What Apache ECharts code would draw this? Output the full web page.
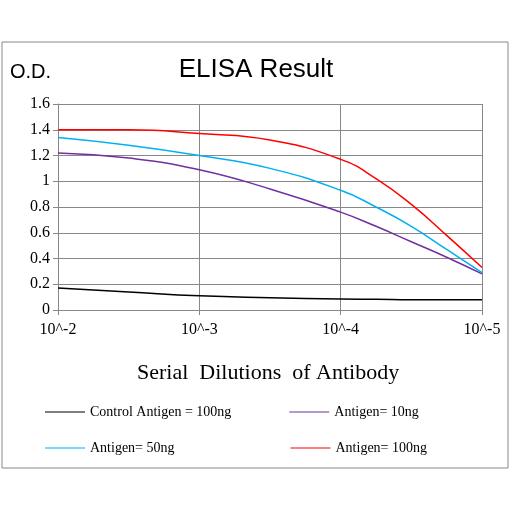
<!DOCTYPE html><html><head><meta charset="utf-8"><script src="https://cdn.jsdelivr.net/npm/echarts@6/dist/echarts.min.js"></script></head><body style="margin:0;background:#fff"><div id="c" style="width:512px;height:512px"></div><script>
const xTickLabels=['10^-2','10^-3','10^-4','10^-5'];
const xs=[0,0.5,1,1.5,2,2.25,2.5,2.75,3];
const control=[0.17,0.14,0.11,0.095,0.085,0.083,0.08,0.08,0.08];
const ag10=[1.22,1.18,1.09,0.94,0.76,0.65,0.53,0.41,0.28];
const ag50=[1.34,1.28,1.20,1.10,0.93,0.80,0.65,0.47,0.29];
const ag100=[1.40,1.40,1.37,1.32,1.17,1.02,0.82,0.58,0.33];
const names=['Control Antigen = 100ng','Antigen= 10ng','Antigen= 50ng','Antigen= 100ng'];
const colors=['#000000','#7030a0','#00b0f0','#ff0000'];
const vals=[control,ag10,ag50,ag100];
const serif='Liberation Serif';
const ch=echarts.init(document.getElementById('c'));
ch.setOption({
 animation:false,
 graphic:[{type:'rect',shape:{x:2,y:42,width:506,height:426},style:{fill:'none',stroke:'#888',lineWidth:1}},
  {type:'text',left:10,top:62,style:{text:'O.D.',font:'20px Liberation Sans',fill:'#000'}},
  {type:'text',left:137,top:362,style:{text:'Serial  Dilutions  of Antibody',font:'22px Liberation Serif',fill:'#000'}}],
 title:{text:'ELISA Result',left:'center',top:52,textStyle:{fontFamily:'Liberation Sans',fontWeight:'normal',fontSize:26,color:'#000'}},
 grid:{left:58,right:30,top:104,bottom:202},
 legend:[{data:[names[0],names[1]],left:40,top:400,itemGap:58,icon:'rect',itemWidth:40,itemHeight:1,textStyle:{fontFamily:serif,fontSize:14,color:'#000'}},
         {data:[names[2],names[3]],left:40,top:436,itemGap:116,icon:'rect',itemWidth:40,itemHeight:1,textStyle:{fontFamily:serif,fontSize:14,color:'#000'}}],
 xAxis:{type:'value',min:0,max:3,interval:1,axisLine:{lineStyle:{color:'#888'}},axisTick:{show:true,length:5,lineStyle:{color:'#888'}},splitLine:{lineStyle:{color:'#888'}},
  axisLabel:{formatter:v=>xTickLabels[v],fontFamily:serif,fontSize:16,color:'#000',margin:12}},
 yAxis:{type:'value',min:0,max:1.6,interval:0.2,axisLine:{show:true,lineStyle:{color:'#888'}},axisTick:{show:true,lineStyle:{color:'#888'}},splitLine:{lineStyle:{color:'#888'}},
  axisLabel:{formatter:v=>String(Math.round(v*10)/10),fontFamily:serif,fontSize:16,color:'#000'}},
 series:vals.map((d,i)=>({name:names[i],type:'line',smooth:true,showSymbol:false,color:colors[i],lineStyle:{width:1.5},data:xs.map((x,j)=>[x,d[j]])}))
});
</script></body></html>
